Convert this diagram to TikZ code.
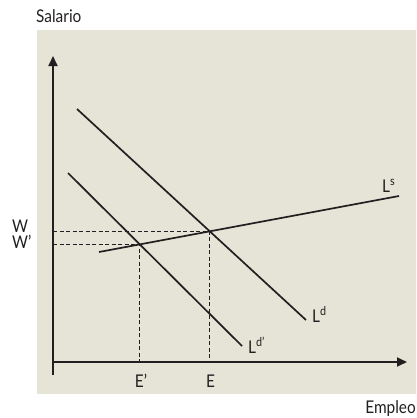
\documentclass[tikz,border=0pt]{standalone}
\usepackage{fontspec}
\setmainfont{Lato}[FakeStretch=0.88]
\usetikzlibrary{arrows.meta,intersections}
\definecolor{bg}{RGB}{230,228,214}
\definecolor{ink}{RGB}{35,31,32}
\tikzset{
  axis/.style={draw=ink,line width=1.8pt},
  curve/.style={draw=ink,line width=1.7pt},
  guide/.style={draw=ink,line width=1.1pt,dash pattern=on 4pt off 2.5pt},
  lbl/.style={text=ink,font=\fontsize{17.5}{19}\selectfont,inner sep=0pt},
  tip/.style={-{Triangle[length=10pt,width=9pt]}}
}
\begin{document}
\begin{tikzpicture}[x=1pt,y=-1pt]
\useasboundingbox (0,0) rectangle (416,418);
\fill[bg] (37,30) rectangle (416,394);
% axes
\coordinate (ybot) at (53,375);
\coordinate (ytop) at (53,56);
\coordinate (O) at (53,362);
\coordinate (xend) at (407,362);
\draw[axis,tip] (ybot) -- (ytop);
\draw[axis,tip] (O) -- (xend);
% curves
\coordinate (ld1) at (77,109);
\coordinate (ld2) at (306,320);
\coordinate (lp1) at (68,173);
\coordinate (lp2) at (242,346);
\coordinate (ls1) at (99,252);
\coordinate (ls2) at (399,196);
\path[name path=ld] (ld1) -- (ld2);
\path[name path=lp] (lp1) -- (lp2);
\path[name path=ls] (ls1) -- (ls2);
\path[name intersections={of=ls and ld, by=A}];
\path[name intersections={of=ls and lp, by=B}];
\coordinate (Ay) at (O |- A);
\coordinate (Ax) at (A |- O);
\coordinate (By) at (O |- B);
\coordinate (Bx) at (B |- O);
\draw[guide] (Ay) -- (A) -- (Ax);
\draw[guide] (By) -- (B) -- (Bx);
\draw[curve] (ld1) -- (ld2);
\draw[curve] (lp1) -- (lp2);
\draw[curve] (ls1) -- (ls2);
% labels
\node[lbl,anchor=base west] (sal) at (36,22) {Salario};
\node[lbl,anchor=base east] (emp) at (416,413) {Empleo};
\node[lbl,anchor=base west] (w) at (12,232) {W};
\node[lbl,anchor=base west] (wp) at (12,248) {W'};
\node[lbl,anchor=base] (ep) at (141,387) {E'};
\node[lbl,anchor=base] (e) at (210.5,387) {E};
\node[lbl,anchor=base west] (ldl) at (312,322) {L\textsuperscript{d}};
\node[lbl,anchor=base west] (lpl) at (248,353) {L\textsuperscript{d'}};
\node[lbl,anchor=base west] (lsl) at (382,192) {L\textsuperscript{s}};
\end{tikzpicture}
\end{document}
